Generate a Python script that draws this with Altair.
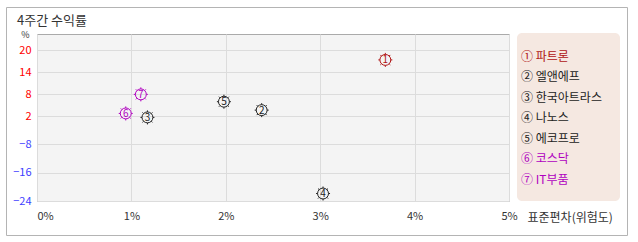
import altair as alt
import pandas as pd

FONT = "Noto Sans CJK KR"

# ---- data ----
names = ["파트론", "엘앤에프", "한국아트라스", "나노스", "에코프로", "코스닥", "IT부품"]
marks = ["①", "②", "③", "④", "⑤", "⑥", "⑦"]
digits = ["1", "2", "3", "4", "5", "6", "7"]
std_dev = [3.69, 2.38, 1.17, 3.03, 1.98, 0.94, 1.10]      # x, %
returns = [17.3, 3.6, 1.5, -21.9, 5.9, 2.7, 7.9]           # y, %
series_colors = ["#b01414", "#222222", "#222222", "#222222", "#222222", "#b000c0", "#b000c0"]

x_ticks = [0, 1, 2, 3, 4, 5]
y_ticks = [20, 14, 8, 2, -8, -16, -24]

W, H = 472, 167

df = pd.DataFrame({
    "name": names,
    "mark": marks,
    "digit": digits,
    "std": std_dev,
    "ret": returns,
    "label": [m + " " + n for m, n in zip(marks, names)],
    "idx": list(range(1, len(names) + 1)),
})
one = pd.DataFrame({"k": [0]})

color_scale = alt.Scale(domain=names, range=series_colors)

# y axis in the original is piecewise (positive steps 6, negative steps 8/10)
y_scale = alt.Scale(domain=[-24, -8, 2, 20, 24.36], range=[H, 110, 82, 16, 0],
                    zero=False, nice=False)
x_scale = alt.Scale(domain=[0, 5], nice=False, zero=False)

x_axis = alt.Axis(
    values=x_ticks, tickCount=12, labelExpr="datum.value + '%'", ticks=False, domain=False,
    labelPadding=9, labelFont=FONT, labelFontSize=11, labelColor="#333333",
    labelAlign={"condition": {"test": "datum.value == 0", "value": "left"}, "value": "center"},
    labelOverlap=False,
    grid=True, gridColor="#dcdcdc",
    title="표준편차(위험도)", titleFont=FONT, titleFontSize=12, titleFontWeight="normal",
    titleColor="#333333", titleX=490, titleY=16, titleAlign="left", titleBaseline="middle",
    titleAngle=0,
)
y_axis = alt.Axis(
    values=y_ticks, tickCount=12, ticks=False, domain=False, labelPadding=6,
    labelFont=FONT, labelFontSize=11, labelOverlap=False,
    labelColor={"condition": {"test": "datum.value > 0", "value": "#ff0000"}, "value": "#3c3cff"},
    grid=True, gridColor="#dcdcdc",
    title="%", titleFont=FONT, titleFontSize=9, titleFontWeight="normal", titleColor="#333333",
    titleAngle=0, titleX=-12, titleY=0, titleAlign="center", titleBaseline="middle",
)

marker_path = ("M0.78,0A0.78,0.78,0,1,1,-0.78,0A0.78,0.78,0,1,1,0.78,0"
               "M0,-0.78L0,-1M0,0.78L0,1M-0.78,0L-1,0M0.78,0L1,0"
               "M0.55,0.55L0.71,0.71M-0.55,0.55L-0.71,0.71M0.55,-0.55L0.71,-0.71M-0.55,-0.55L-0.71,-0.71")

outer = alt.Chart(one).mark_rect(fill=None, stroke="#b4b4b4", strokeWidth=1).encode(
    x=alt.value(-30.5), x2=alt.value(590.5), y=alt.value(-26.5), y2=alt.value(201.5)
)
legend_bg = alt.Chart(one).mark_rect(fill="#f5e8e1", cornerRadius=5).encode(
    x=alt.value(480), x2=alt.value(583), y=alt.value(-1), y2=alt.value(167)
)
title = alt.Chart(one).mark_text(
    text="4주간 수익률", font=FONT, fontSize=13, color="#333333", align="left", baseline="middle"
).encode(x=alt.value(-20), y=alt.value(-13))

base = alt.Chart(df)
pts = base.mark_point(shape=marker_path, size=196, filled=False, strokeWidth=1, opacity=1).encode(
    x=alt.X("std:Q", scale=x_scale, axis=x_axis),
    y=alt.Y("ret:Q", scale=y_scale, axis=y_axis),
    color=alt.Color("name:N", scale=color_scale, legend=None),
)
nums = base.mark_text(font=FONT, fontSize=10, baseline="middle", align="center", dy=0.5).encode(
    x=alt.X("std:Q", scale=x_scale, axis=x_axis),
    y=alt.Y("ret:Q", scale=y_scale, axis=y_axis),
    text="digit:N",
    color=alt.Color("name:N", scale=color_scale, legend=None),
)
legend_txt = base.mark_text(font=FONT, fontSize=12, align="left", baseline="middle").encode(
    x=alt.value(484),
    y=alt.Y("idx:Q", scale=alt.Scale(domain=[1, 7], range=[22.5, 146]), axis=None),
    text="label:N",
    color=alt.Color("name:N", scale=color_scale, legend=None),
)

main = alt.layer(pts, nums)
chart = alt.layer(outer, legend_bg, title, main, legend_txt).resolve_scale(
    y="independent"
).properties(
    width=W, height=H,
    autosize=alt.AutoSizeParams(type="none"),
    padding={"left": 37, "top": 34, "right": 129, "bottom": 41},
    background="white",
).configure_view(stroke="#aaaaaa", fill="#f4f4f4")

chart.save("out.html", embed_options={"renderer": "svg", "actions": False})
